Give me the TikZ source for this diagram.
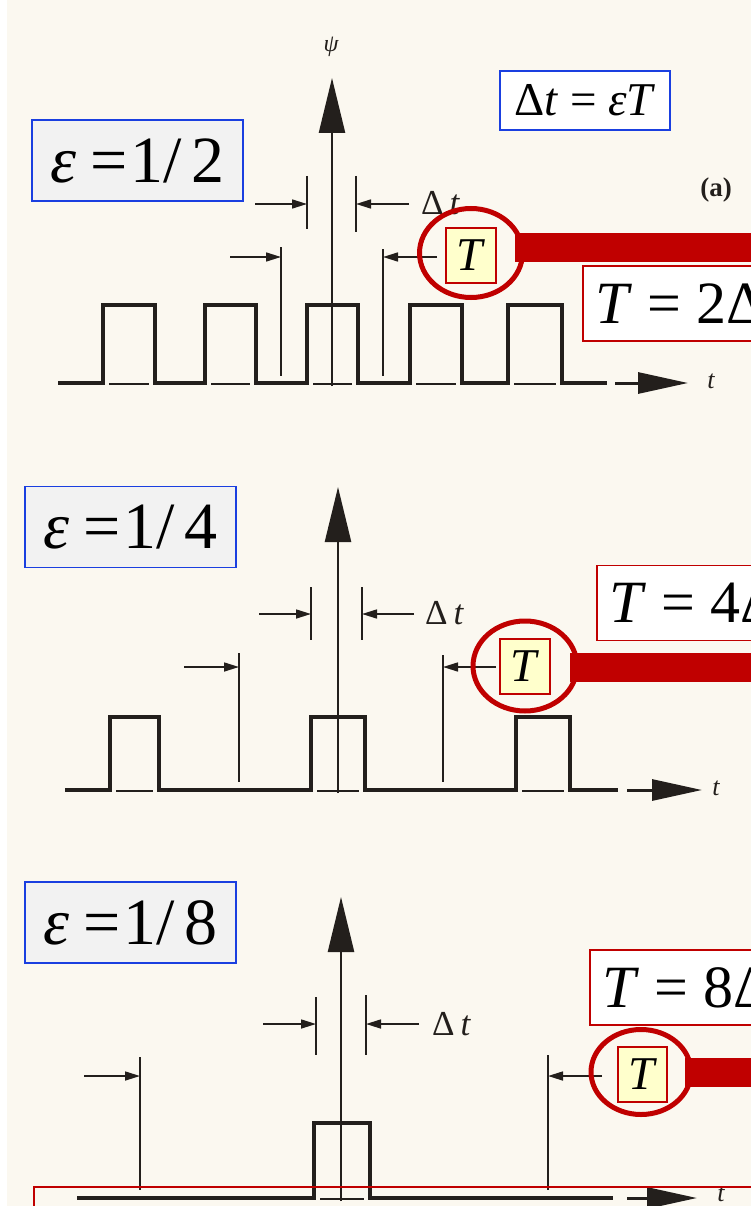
\documentclass[tikz,border=0pt]{standalone}
\usepackage{fontspec}
\setmainfont{Liberation Serif}
\usetikzlibrary{arrows.meta,shapes.geometric}
\definecolor{paper}{HTML}{FBF8F0}
\definecolor{ovblue}{HTML}{1A3FE0}
\definecolor{ovred}{HTML}{C00000}
\definecolor{tyellow}{HTML}{FFFFCC}
\definecolor{epsgray}{HTML}{F2F2F2}
\definecolor{ink}{HTML}{231F1C}
\newcommand{\fs}[1]{\fontsize{#1}{#1}\selectfont}
\newcommand{\epsfrac}[1]{\textit{ε}\hspace{14pt}=\hspace{3pt}1/\hspace{10pt}#1}
\begin{document}
\begin{tikzpicture}[x=1pt,y=-1pt,
  wave/.style={draw=ink, line width=4pt, line join=miter},
  under/.style={draw=ink, line width=2pt},
  vaxis/.style={draw=ink, line width=2.5pt, -{Triangle[length=55pt,width=26pt]}},
  taxis/.style={draw=ink, line width=3pt, -{Triangle[length=50pt,width=21pt]}},
  tickline/.style={draw=ink, line width=1.8pt},
  dimarrow/.style={draw=ink, line width=1.6pt, -{Triangle[length=15pt,width=9pt]}},
  epsbox/.style={draw=ovblue, line width=1.5pt, fill=epsgray, inner sep=0pt, minimum width=211pt, minimum height=81pt, font=\fs{66}},
  formbox/.style={draw=ovblue, line width=1.5pt, fill=white, inner sep=0pt, minimum width=170pt, minimum height=59pt, font=\fs{47}},
  eqbox/.style={draw=ovred, line width=1.5pt, fill=white, inner xsep=13pt, inner ysep=0pt, minimum height=75pt, anchor=west, font=\fs{60}},
  ybox/.style={draw=ovred, line width=1.5pt, fill=tyellow, inner sep=0pt, minimum width=50pt, minimum height=55pt, font=\fs{47}},
  ring/.style={ellipse, draw=ovred, line width=5pt, inner sep=0pt},
  redbar/.style={draw=ovred, line width=29pt},
  scanlbl/.style={text=ink, inner sep=0pt},
  dtlbl/.style={scanlbl, font=\fs{35}, anchor=west},
]
\path[use as bounding box] (0,0) rectangle (751,1206);
\clip (0,0) rectangle (751,1206);
\fill[white] (0,0) rectangle (751,1206);
\fill[paper] (7,0) rectangle (751,1206);

% ================= Panel 1 : eps = 1/2 =================
\draw[wave] (58,383) -- (103,383) -- (103,305) -- (155,305) -- (155,383)
  -- (205,383) -- (205,305) -- (256,305) -- (256,383)
  -- (307,383) -- (307,305) -- (358,305) -- (358,383)
  -- (410,383) -- (410,305) -- (462,305) -- (462,383)
  -- (508,383) -- (508,305) -- (562,305) -- (562,383) -- (607,383);
\foreach \a/\b in {103/155,205/256,307/358,410/462,508/562}
  \draw[under] (\a+6,384) -- (\b-6,384);
\coordinate (o1) at (332,386);
\coordinate (top1) at (332,78);
\draw[vaxis] (o1) -- (top1);
\coordinate (ta1) at (615,383);
\coordinate (tb1e) at (688,383);
\draw[taxis] (ta1) -- (tb1e);
\node[scanlbl, font=\fs{26}\itshape] (t1) at (711,381) {t};
\node[scanlbl, font=\fs{24}\itshape] (psi1) at (331,47) {ψ};
\node[scanlbl, font=\fs{27}\bfseries] (a1) at (716,190) {(a)};
% Delta t ticks
\draw[tickline] (307,176) -- (307,229);
\draw[tickline] (356,176) -- (356,232);
\coordinate (d1l) at (255,204); \coordinate (d1lt) at (307,204);
\coordinate (d1r) at (409,204); \coordinate (d1rt) at (356,204);
\draw[dimarrow] (d1l) -- (d1lt);
\draw[dimarrow] (d1r) -- (d1rt);
\node[dtlbl] (dt1) at (421,203) {Δ\,\textit{t}};
% T ticks
\draw[tickline] (281,247) -- (281,376);
\draw[tickline] (383,249) -- (383,376);
\coordinate (T1l) at (230,257); \coordinate (T1lt) at (281,257);
\coordinate (T1r) at (437,257); \coordinate (T1rt) at (383,257);
\draw[dimarrow] (T1l) -- (T1lt);
\draw[dimarrow] (T1r) -- (T1rt);
% overlays
\node[epsbox] (eps1) at (137.5,160.5) {\epsfrac{2}};
\node[formbox] (form) at (585,100.5) {Δ\textit{t} = \textit{εT}};
\coordinate (bar1s) at (515,247.5);
\coordinate (bar1e) at (760,247.5);
\draw[redbar] (bar1s) -- (bar1e);
\node[ring, minimum width=103pt, minimum height=89pt] (ring1) at (471,253) {};
\node[ybox] (ty1) at (471,255.5) {\textit{T}};
\node[eqbox] (eq1) at (582,303.5) {\textit{T} = 2Δ\textit{t}};

% ================= Panel 2 : eps = 1/4 =================
\draw[wave] (65,790) -- (110,790) -- (110,717) -- (159,717) -- (159,790)
  -- (311,790) -- (311,717) -- (365,717) -- (365,790)
  -- (516,790) -- (516,717) -- (570,717) -- (570,790) -- (618,790);
\foreach \a/\b in {110/159,311/365,516/570}
  \draw[under] (\a+6,791) -- (\b-6,791);
\coordinate (o2) at (338,793);
\coordinate (top2) at (338,487);
\draw[vaxis] (o2) -- (top2);
\coordinate (ta2) at (627,790);
\coordinate (tb2e) at (702,790);
\draw[taxis] (ta2) -- (tb2e);
\node[scanlbl, font=\fs{26}\itshape] (t2) at (716,788) {t};
\draw[tickline] (311,587) -- (311,640);
\draw[tickline] (362,587) -- (362,640);
\coordinate (d2l) at (259,614); \coordinate (d2lt) at (311,614);
\coordinate (d2r) at (414,614); \coordinate (d2rt) at (362,614);
\draw[dimarrow] (d2l) -- (d2lt);
\draw[dimarrow] (d2r) -- (d2rt);
\node[dtlbl] (dt2) at (425,613) {Δ\,\textit{t}};
\draw[tickline] (239,653) -- (239,782);
\draw[tickline] (443,655) -- (443,782);
\coordinate (T2l) at (184,667); \coordinate (T2lt) at (239,667);
\coordinate (T2r) at (496,667); \coordinate (T2rt) at (443,667);
\draw[dimarrow] (T2l) -- (T2lt);
\draw[dimarrow] (T2r) -- (T2rt);
\node[epsbox] (eps2) at (130.5,527) {\epsfrac{4}};
\coordinate (bar2s) at (570,667.5);
\coordinate (bar2e) at (760,667.5);
\draw[redbar] (bar2s) -- (bar2e);
\node[ring, minimum width=104pt, minimum height=90pt] (ring2) at (525,666) {};
\node[ybox] (ty2) at (525,666.5) {\textit{T}};
\node[eqbox] (eq2) at (596,603) {\textit{T} = 4Δ\textit{t}};

% ================= Panel 3 : eps = 1/8 =================
\draw[wave] (77,1198) -- (314,1198) -- (314,1123) -- (370,1123) -- (370,1198) -- (613,1198);
\draw[under] (320,1199) -- (364,1199);
\coordinate (o3) at (341,1201);
\coordinate (top3) at (341,897);
\draw[vaxis] (o3) -- (top3);
\coordinate (ta3) at (627,1198);
\coordinate (tb3e) at (697,1198);
\draw[taxis] (ta3) -- (tb3e);
\node[scanlbl, font=\fs{26}\itshape] (t3) at (721,1194) {t};
\draw[tickline] (316,997) -- (316,1055);
\draw[tickline] (366,995) -- (366,1055);
\coordinate (d3l) at (263,1024); \coordinate (d3lt) at (316,1024);
\coordinate (d3r) at (419,1024); \coordinate (d3rt) at (366,1024);
\draw[dimarrow] (d3l) -- (d3lt);
\draw[dimarrow] (d3r) -- (d3rt);
\node[dtlbl] (dt3) at (432,1024) {Δ\,\textit{t}};
\draw[tickline] (140,1057) -- (140,1190);
\draw[tickline] (548,1055) -- (548,1190);
\coordinate (T3l) at (84,1076); \coordinate (T3lt) at (140,1076);
\coordinate (T3r) at (602,1076); \coordinate (T3rt) at (548,1076);
\draw[dimarrow] (T3l) -- (T3lt);
\draw[dimarrow] (T3r) -- (T3rt);
\node[epsbox] (eps3) at (130.5,922.5) {\epsfrac{8}};
\coordinate (bar3s) at (685,1072.5);
\coordinate (bar3e) at (760,1072.5);
\draw[redbar] (bar3s) -- (bar3e);
\node[ring, minimum width=100pt, minimum height=85pt] (ring3) at (641,1072) {};
\node[ybox, minimum width=49pt] (ty3) at (642.5,1074.5) {\textit{T}};
\node[eqbox] (eq3) at (589,987.5) {\textit{T} = 8Δ\textit{t}};
\draw[draw=ovred, line width=1.5pt] (34,1187) rectangle (770,1230);
\end{tikzpicture}
\end{document}
